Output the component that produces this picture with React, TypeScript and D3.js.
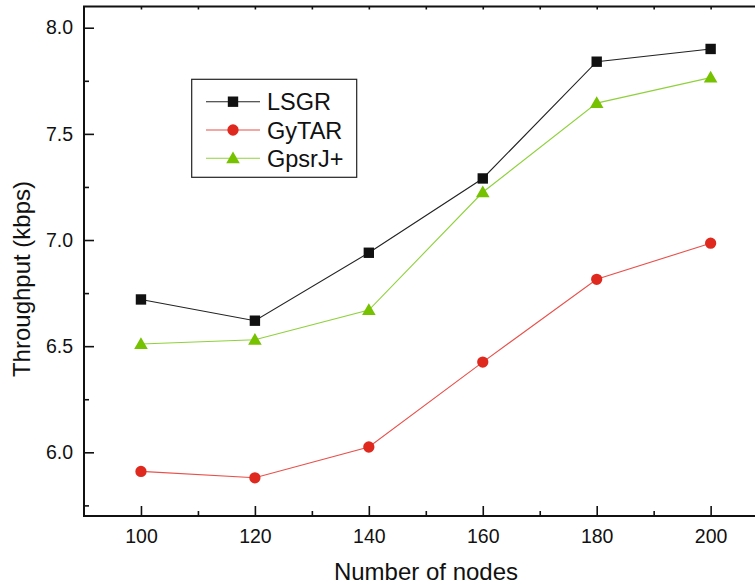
import React, { useEffect, useRef } from 'react';
import * as d3 from 'd3';

// x axis: number of nodes
const nodes = [100, 120, 140, 160, 180, 200];

// throughput (kbps) per protocol
const lsgr = [6.72, 6.62, 6.94, 7.29, 7.84, 7.90];
const gytar = [5.91, 5.88, 6.025, 6.425, 6.815, 6.985];
const gpsrj = [6.51, 6.53, 6.67, 7.225, 7.645, 7.765];

const seriesNames = ['LSGR', 'GyTAR', 'GpsrJ+'];

const xMajorTicks = [100, 120, 140, 160, 180, 200];
const xMinorTicks = [110, 130, 150, 170, 190];
const yMajorTicks = [6.0, 6.5, 7.0, 7.5, 8.0];
const yMinorTicks = [5.75, 6.25, 6.75, 7.25, 7.75];

const FONT = '"Liberation Sans", Arial, sans-serif';

export default function App() {
  const ref = useRef<SVGSVGElement>(null);

  useEffect(() => {
    const svg = d3.select(ref.current);
    svg.selectAll('*').remove();

    // plot box (right edge runs past the picture, like the original crop)
    const left = 84, right = 767.6, top = 6.5, bottom = 516;

    const x = d3.scaleLinear().domain([90, 210]).range([left, right]);
    const y = d3.scaleLinear().domain([5.7, 8.1]).range([bottom, top]);

    const g = svg.append('g');

    // series
    const styles = [
      { data: lsgr, line: '#222222', fill: '#111111', shape: 'square' },
      { data: gytar, line: '#e8504a', fill: '#e0291e', shape: 'circle' },
      { data: gpsrj, line: '#8fd13c', fill: '#76c100', shape: 'triangle' },
    ];

    const line = d3.line<number>()
      .x((_, i) => x(nodes[i]))
      .y((d) => y(d));

    const symbolFor = (shape: string) => {
      if (shape === 'square') return d3.symbol(d3.symbolSquare, 108)();
      if (shape === 'circle') return d3.symbol(d3.symbolCircle, 100)();
      return d3.symbol(d3.symbolTriangle, 80)();
    };

    styles.forEach((s) => {
      g.append('path')
        .datum(s.data)
        .attr('fill', 'none')
        .attr('stroke', s.line)
        .attr('stroke-width', 1.1)
        .attr('d', line);

      g.selectAll(null)
        .data(s.data)
        .enter().append('path')
        .attr('d', symbolFor(s.shape))
        .attr('transform', (d, i) => `translate(${x(nodes[i])},${y(d) + (s.shape === 'triangle' ? 1 : 0)})`)
        .attr('fill', s.fill);
    });

    // axes with inward ticks
    const axisStyle = (sel: any) => {
      sel.select('.domain').remove();
      sel.selectAll('line').attr('stroke', '#111').attr('stroke-width', 1.6);
      sel.selectAll('text')
        .attr('fill', '#111')
        .style('font-family', FONT)
        .style('font-size', '19.5px');
    };

    svg.append('g')
      .attr('transform', `translate(0,${bottom})`)
      .call(d3.axisBottom(x).tickValues(xMajorTicks).tickSize(-10).tickPadding(13).tickFormat(d3.format('d')))
      .call(axisStyle);
    svg.append('g')
      .attr('transform', `translate(0,${bottom})`)
      .call(d3.axisBottom(x).tickValues(xMinorTicks).tickSize(-5).tickFormat(() => ''))
      .call(axisStyle);

    svg.append('g')
      .attr('transform', `translate(${left},0)`)
      .call(d3.axisLeft(y).tickValues(yMajorTicks).tickSize(-10).tickPadding(11).tickFormat(d3.format('.1f')))
      .call(axisStyle);
    svg.append('g')
      .attr('transform', `translate(${left},0)`)
      .call(d3.axisLeft(y).tickValues(yMinorTicks).tickSize(-5).tickFormat(() => ''))
      .call(axisStyle);

    // mirrored short ticks on the top edge
    svg.append('g')
      .attr('transform', `translate(0,${top})`)
      .call(d3.axisTop(x).tickValues([...xMajorTicks, ...xMinorTicks]).tickSize(-3).tickFormat(() => ''))
      .call(axisStyle);

    // frame
    svg.append('rect')
      .attr('x', left).attr('y', top)
      .attr('width', right - left).attr('height', bottom - top)
      .attr('fill', 'none')
      .attr('stroke', '#111')
      .attr('stroke-width', 2);

    // axis titles
    svg.append('text')
      .attr('x', 426)
      .attr('y', 580)
      .attr('text-anchor', 'middle')
      .style('font-family', FONT)
      .style('font-size', '24px')
      .attr('fill', '#111')
      .text('Number of nodes');

    svg.append('text')
      .attr('transform', `translate(30,279) rotate(-90)`)
      .attr('text-anchor', 'middle')
      .style('font-family', FONT)
      .style('font-size', '24px')
      .attr('fill', '#111')
      .text('Throughput (kbps)');

    // legend
    const lg = svg.append('g');
    lg.append('rect')
      .attr('x', 191.7).attr('y', 79.3)
      .attr('width', 165).attr('height', 98)
      .attr('fill', '#fff')
      .attr('stroke', '#222')
      .attr('stroke-width', 1.2);

    const rowY = d3.scalePoint<string>().domain(seriesNames).range([101.7, 158.3]);
    styles.forEach((s, i) => {
      const name = seriesNames[i];
      const cy = rowY(name) as number;
      lg.append('line')
        .attr('x1', 206).attr('x2', 260)
        .attr('y1', cy).attr('y2', cy)
        .attr('stroke', s.line)
        .attr('stroke-width', 1.1);
      lg.append('path')
        .attr('d', symbolFor(s.shape))
        .attr('transform', `translate(233,${cy + (s.shape === 'triangle' ? 1 : 0)})`)
        .attr('fill', s.fill);
      lg.append('text')
        .attr('x', 267)
        .attr('y', cy + 8.5)
        .style('font-family', FONT)
        .style('font-size', '23.5px')
        .attr('fill', '#111')
        .text(name);
    });
  }, []);

  return (
    <svg
      ref={ref}
      width={755}
      height={584}
      style={{ position: 'absolute', left: 0, top: 0, background: '#fff' }}
    />
  );
}
